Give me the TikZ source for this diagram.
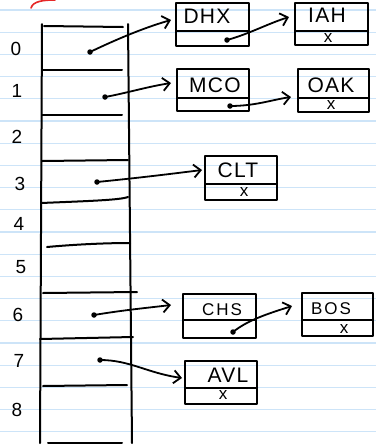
\documentclass[tikz,border=0pt]{standalone}
\usepackage{fontspec}
\setmainfont{Liberation Sans}
\usetikzlibrary{arrows.meta}
\definecolor{rulecol}{RGB}{205,228,248}
\definecolor{redmark}{RGB}{230,40,40}
\begin{document}
\begin{tikzpicture}[x=1pt,y=-1pt,
  ink/.style={line width=2pt, line cap=round, line join=round},
  rule/.style={rulecol, line width=1.1pt},
  listbox/.style={ink, draw, rectangle, inner sep=0pt},
  ptr/.style={ink, line width=1.8pt, -{Straight Barb[length=7pt,width=13pt,line width=1.8pt]}},
  dotmark/.style={circle, fill, inner sep=0pt, minimum size=5.5pt},
  lbl/.style={inner sep=0pt, font=\fontsize{21}{21}\selectfont\addfontfeature{LetterSpace=6}},
  smalllbl/.style={inner sep=0pt, font=\fontsize{17}{17}\selectfont\addfontfeature{LetterSpace=12}},
  nil/.style={inner sep=0pt, font=\fontsize{17}{17}\selectfont},
  idx/.style={inner sep=0pt, font=\fontsize{19}{19}\selectfont}]
\useasboundingbox (0,0) rectangle (376,445);
\fill[white] (0,0) rectangle (376,445);
% ruled paper
\foreach \k in {0,...,19} \draw[rule] (0,{10+22.2*\k}) -- (376,{10+22.2*\k});
% red mark
\draw[redmark, line width=1.6pt, line cap=round] (31,8) .. controls (33,1) and (44,0) .. (55,0);
% index labels
\node[idx] (i0) at (16,49) {0};
\node[idx] (i1) at (17,91) {1};
\node[idx] (i2) at (17,137) {2};
\node[idx] (i3) at (20,184) {3};
\node[idx] (i4) at (19,224) {4};
\node[idx] (i5) at (21,267) {5};
\node[idx] (i6) at (18,315) {6};
\node[idx] (i7) at (19,361) {7};
\node[idx] (i8) at (17,410) {8};
% table
\draw[ink] (42,24) -- (40,443);
\draw[ink] (128,24) -- (132,443);
\draw[ink] (44,26) -- (123,27);
\draw[ink] (42,70) -- (122,70);
\draw[ink] (42,115) -- (122,115);
\draw[ink] (42,161) -- (128,160);
\draw[ink] (41,203) .. controls (90,201) and (120,200) .. (128,197);
\draw[ink] (47,247) .. controls (80,244) and (110,243) .. (130,243);
\draw[ink] (43,293) -- (137,292);
\draw[ink] (40,339) -- (133,337);
\draw[ink] (43,386) -- (127,385);
\draw[ink] (48,443) -- (122,443);
% pointer origins in the table
\node[dotmark] (d0) at (90,52) {};
\node[dotmark] (d1) at (105,97) {};
\node[dotmark] (d3) at (97,182) {};
\node[dotmark] (d6) at (94,315) {};
\node[dotmark] (d7) at (100,360) {};
% list boxes
\node[listbox, minimum width=73pt, minimum height=43pt] (dhx) at (212.5,24.5) {};
\draw[ink] (176,31) -- (249,31);
\node[lbl] (dhxt) at (207,16) {DHX};
\node[dotmark] (dhxp) at (227,40) {};

\node[listbox, minimum width=73pt, minimum height=42pt] (iah) at (331.5,24) {};
\draw[ink] (295,31) -- (368,31);
\node[lbl] (iaht) at (327,15) {IAH};
\node[nil] (iahx) at (328,38) {x};

\node[listbox, minimum width=72pt, minimum height=42pt] (mco) at (213,90) {};
\draw[ink] (177,98) -- (249,98);
\node[lbl] (mcot) at (215,85) {MCO};
\node[dotmark] (mcop) at (230,106) {};

\node[listbox, minimum width=71pt, minimum height=43pt] (oak) at (333.5,90.5) {};
\draw[ink] (298,98) -- (369,98);
\node[lbl] (oakt) at (331,85) {OAK};
\node[nil] (oakx) at (331,105) {x};

\node[listbox, minimum width=72pt, minimum height=44pt] (clt) at (241,178) {};
\draw[ink] (205,184) -- (277,184);
\node[lbl] (cltt) at (238,170) {CLT};
\node[nil] (cltx) at (244,192) {x};

\node[listbox, minimum width=73pt, minimum height=44pt] (chs) at (219.5,316) {};
\draw[ink] (183,320) -- (256,320);
\node[smalllbl] (chst) at (222,310) {CHS};
\node[dotmark] (chsp) at (233,332) {};

\node[listbox, minimum width=71pt, minimum height=43pt] (bos) at (337.5,314.5) {};
\draw[ink] (302,320) -- (373,320);
\node[smalllbl] (bost) at (331,309) {BOS};
\node[nil] (bosx) at (344,329) {x};

\node[listbox, minimum width=72pt, minimum height=43pt] (avl) at (221,382.5) {};
\draw[ink] (185,388) -- (257,388);
\node[lbl] (avlt) at (228,375) {AVL};
\node[nil] (avlx) at (223,395) {x};
% connectors
\draw[ptr] (d0.center) .. controls +(25,-12) and +(-28,8) .. ([xshift=-4pt,yshift=4.5pt]dhx.west);
\draw[ptr] (dhxp.center) .. controls +(22,-6) and +(-22,7) .. ([xshift=-5pt,yshift=7pt]iah.west);
\draw[ptr] (d1.center) .. controls +(22,-4) and +(-25,4) .. ([xshift=-5pt,yshift=7pt]mco.west);
\draw[ptr] (mcop.center) .. controls +(25,0) and +(-20,3) .. ([xshift=-6pt,yshift=-6.5pt]oak.west);
\draw[ptr] (d3.center) .. controls +(40,-4) and +(-40,5) .. ([xshift=-2pt,yshift=8pt]clt.west);
\draw[ptr] (d6.center) .. controls +(30,-5) and +(-25,3) .. ([xshift=-11pt,yshift=11pt]chs.west);
\draw[ptr] (chsp.center) .. controls +(15,-12) and +(-25,8) .. ([xshift=-9pt,yshift=8.5pt]bos.west);
\draw[ptr] (d7.center) .. controls +(30,0) and +(-35,-5) .. ([xshift=-2pt,yshift=4.5pt]avl.west);
\end{tikzpicture}
\end{document}
